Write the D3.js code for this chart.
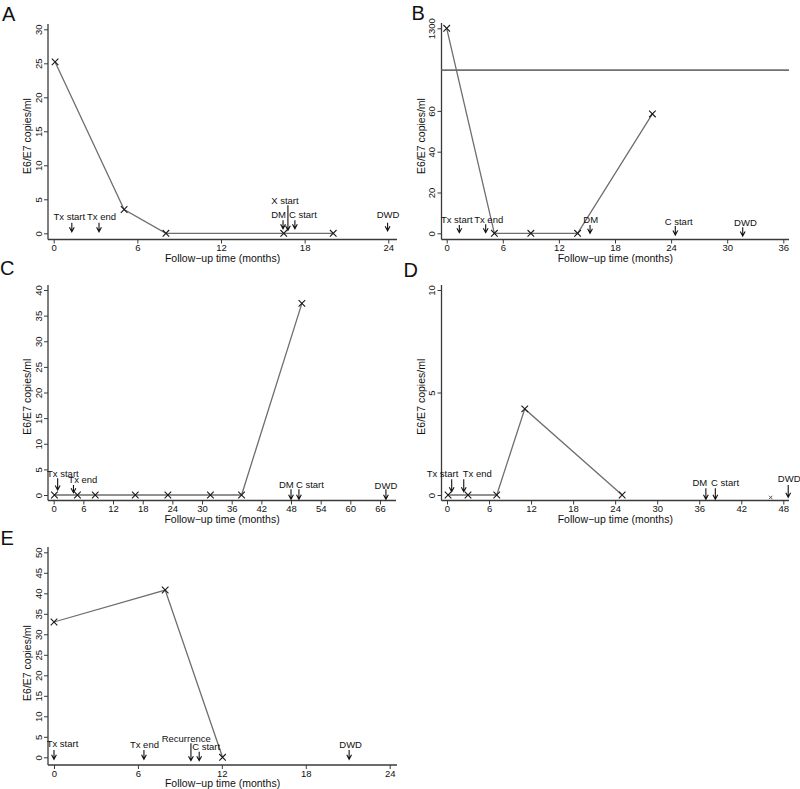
<!DOCTYPE html>
<html><head><meta charset="utf-8">
<script src="https://cdn.jsdelivr.net/npm/d3@7"></script>
<style>
body{margin:0;background:#fff}
svg text{font-family:"Liberation Sans",Arial,Helvetica,sans-serif;fill:#111}
</style>
</head><body>
<svg id="chart" width="800" height="789"></svg>
<script>
// ---------------- DATA ----------------
const panelLetters = ["A", "B", "C", "D", "E"];
const yTitle = "E6/E7 copies/ml";
const xTitle = "Follow\u2212up time (months)";

// Panel A
const monthsA = [0.1, 5.05, 8.05, 16.5, 20.05];
const copiesA = [25.2, 3.5, 0, 0, 0];
const xTicksA = [0, 6, 12, 18, 24];
const yTicksA = [0, 5, 10, 15, 20, 25, 30];
const eventLabelsA = ["Tx start", "Tx end", "DM", "X start", "C start", "DWD"];
const eventMonthsA = [1.3, 3.25, 16.45, 16.8, 17.3, 23.95];

// Panel B (broken y axis)
const monthsB = [0, 5.1, 9.0, 14.0, 22.0];
const copiesB = [1300, 0, 0, 0, 58.5];
const xTicksB = [0, 6, 12, 18, 24, 30, 36];
const yTicksB = [0, 20, 40, 60, 1300];
const yBreakB = 80;
const eventLabelsB = ["Tx start", "Tx end", "DM", "C start", "DWD"];
const eventMonthsB = [1.35, 4.17, 15.33, 24.45, 31.66];

// Panel C
const monthsC = [0.15, 4.8, 8.4, 16.5, 23.1, 31.7, 38.0, 50.2];
const copiesC = [0, 0, 0, 0, 0, 0, 0, 37.4];
const xTicksC = [0, 6, 12, 18, 24, 30, 36, 42, 48, 54, 60, 66];
const yTicksC = [0, 5, 10, 15, 20, 25, 30, 35, 40];
const eventLabelsC = ["Tx start", "Tx end", "DM", "C start", "DWD"];
const eventMonthsC = [0.8, 4.0, 48.0, 49.6, 67.2];

// Panel D
const monthsD = [0.15, 3.0, 7.1, 11.1, 25.0];
const copiesD = [0, 0, 0, 4.2, 0];
const extraMonthsD = [46.2];
const extraCopiesD = [-0.12];
const xTicksD = [0, 6, 12, 18, 24, 30, 36, 42, 48];
const yTicksD = [0, 5, 10];
const eventLabelsD = ["Tx start", "Tx end", "DM", "C start", "DWD"];
const eventMonthsD = [0.67, 2.39, 36.95, 38.3, 48.7];

// Panel E
const monthsE = [0, 7.95, 12.05];
const copiesE = [33.0, 40.8, 0];
const xTicksE = [0, 6, 12, 18, 24];
const yTicksE = [0, 5, 10, 15, 20, 25, 30, 35, 40, 45, 50];
const eventLabelsE = ["Tx start", "Tx end", "Recurrence", "C start", "DWD"];
const eventMonthsE = [0.0, 6.43, 9.79, 10.38, 21.1];

// ---------------- LAYOUT (pixels) ----------------
const layouts = {
  A: {axisX:48, axisY:239.5, x0:53.7, x1:388.3, xEnd:397, yRange:[233.3, 29.3], yTop:24, titleY:136, letter:[2,20.5],
      annot:[[-2.5,-13,-10.5,-1.5],[2.5,-13,-10.5,-1.5],[-4.5,-15,-13,-4.5],[-3,-29,-28,-3],[8,-15,-13,-4.5],[0.5,-15,-10.5,-2.5]]},
  B: {axisX:441.5, axisY:239.5, x0:446.7, x1:783.3, xEnd:789, yRange:[233.3, 70.1, 28.3], yTop:23, titleY:136, letter:[411.5,19.5],
      annot:[[-2.6,-10,-8.3,-0.6],[3,-10,-9,-0.6],[0.7,-10,-8.3,0],[3.4,-8.3,-7.3,1.7],[2.7,-7.3,-6,2.7]]},
  C: {axisX:48, axisY:500.5, x0:53.7, x1:380, xEnd:396, yRange:[495, 290], yTop:285, titleY:396.7, letter:[0,275],
      annot:[[5.2,-18.3,-16.7,-5],[9.4,-11.7,-10,-2.3],[-4.7,-6.7,-5.7,4.3],[11,-6.7,-5.7,4.3],[0,-6,-5.7,4.3]]},
  D: {axisX:441.5, axisY:500.5, x0:447, x1:783.3, xEnd:789, yRange:[495, 290], yTop:285, titleY:396.7, letter:[403.5,277],
      annot:[[-9.2,-17.7,-15.7,-3.3],[13.5,-17.7,-15.7,-3.3],[-6,-9,-6.7,4.3],[9.7,-9,-6.7,4.3],[1,-13.3,-10,2.3]]},
  E: {axisX:48, axisY:765, x0:54, x1:389.7, xEnd:397, yRange:[757.3, 552.3], yTop:547, titleY:663, letter:[0.5,545],
      annot:[[8.5,-10.6,-7.3,2],[0.5,-9,-7.3,2],[-4.7,-15.6,-14,3.4],[7,-7.3,-5.6,3.4],[1.5,-9,-7.3,2]]}
};

const panels = [
  {id:"A", months:monthsA, copies:copiesA, xTicks:xTicksA, yTicks:yTicksA, yDomain:[0, yTicksA[yTicksA.length-1]], evL:eventLabelsA, evM:eventMonthsA},
  {id:"B", months:monthsB, copies:copiesB, xTicks:xTicksB, yTicks:yTicksB, yDomain:[0, yBreakB, yTicksB[yTicksB.length-1]], evL:eventLabelsB, evM:eventMonthsB, brk:yBreakB},
  {id:"C", months:monthsC, copies:copiesC, xTicks:xTicksC, yTicks:yTicksC, yDomain:[0, yTicksC[yTicksC.length-1]], evL:eventLabelsC, evM:eventMonthsC},
  {id:"D", months:monthsD, copies:copiesD, xTicks:xTicksD, yTicks:yTicksD, yDomain:[0, yTicksD[yTicksD.length-1]], evL:eventLabelsD, evM:eventMonthsD, extraM:extraMonthsD, extraC:extraCopiesD},
  {id:"E", months:monthsE, copies:copiesE, xTicks:xTicksE, yTicks:yTicksE, yDomain:[0, yTicksE[yTicksE.length-1]], evL:eventLabelsE, evM:eventMonthsE}
];

// ---------------- STYLE ----------------
const axisColor = "#3a3a3a";
const lineColor = "#6e6e6e";
const markColor = "#1a1a1a";
const tickFont = 9.5, annFont = 9.5, titleFont = 10.5, letterFont = 20;

const svg = d3.select("#chart");

function drawPanel(p, letter) {
  const L = layouts[p.id];
  const g = svg.append("g");
  const x = d3.scaleLinear().domain([0, p.xTicks[p.xTicks.length-1]]).range([L.x0, L.x1]);
  const y = d3.scaleLinear().domain(p.yDomain).range(L.yRange);

  // axis lines
  g.append("line").attr("x1", L.axisX).attr("x2", L.axisX).attr("y1", L.yTop).attr("y2", L.axisY)
    .attr("stroke", axisColor).attr("stroke-width", 1.3);
  g.append("line").attr("x1", L.axisX).attr("x2", L.xEnd).attr("y1", L.axisY).attr("y2", L.axisY)
    .attr("stroke", axisColor).attr("stroke-width", 1.3);

  // x axis
  const xa = g.append("g").attr("transform", `translate(0,${L.axisY})`)
    .call(d3.axisBottom(x).tickValues(p.xTicks).tickSize(4).tickSizeOuter(0).tickFormat(d3.format("d")));
  xa.select(".domain").remove();
  xa.attr("font-family", null).attr("font-size", null);
  xa.selectAll(".tick line").attr("stroke", axisColor).attr("stroke-width", 1);
  xa.selectAll(".tick text").attr("y", 11.5).attr("dy", null).attr("font-size", tickFont).attr("fill", "#111");

  // y axis
  const ya = g.append("g").attr("transform", `translate(${L.axisX},0)`)
    .call(d3.axisLeft(y).tickValues(p.yTicks).tickSize(4).tickSizeOuter(0).tickFormat(d3.format("d")));
  ya.select(".domain").remove();
  ya.attr("font-family", null).attr("font-size", null);
  ya.selectAll(".tick line").attr("stroke", axisColor).attr("stroke-width", 1);
  ya.selectAll(".tick text").attr("x", 0).attr("dy", null).attr("text-anchor", "middle")
    .attr("transform", "translate(-6.3,0) rotate(-90)").attr("font-size", tickFont).attr("fill", "#111");

  // axis break line (panel B)
  if (p.brk !== undefined) {
    g.append("line").attr("x1", L.axisX).attr("x2", L.xEnd).attr("y1", y(p.brk)).attr("y2", y(p.brk))
      .attr("stroke", "#707070").attr("stroke-width", 1.8);
  }

  // data line
  const pts = p.months.map((m, i) => ({m, v: p.copies[i]}));
  g.append("path").datum(pts)
    .attr("d", d3.line().x(d => x(d.m)).y(d => y(d.v)))
    .attr("fill", "none").attr("stroke", lineColor).attr("stroke-width", 1.3);
  g.selectAll(".mk").data(pts).join("path").attr("class", "mk")
    .attr("transform", d => `translate(${x(d.m)},${y(d.v)})`)
    .attr("d", d3.symbol().type(d3.symbolX).size(30))
    .attr("fill", "none").attr("stroke", markColor).attr("stroke-width", 1.1);

  if (p.extraM) {
    const ex = p.extraM.map((m, i) => ({m, v: p.extraC[i]}));
    g.selectAll(".mk2").data(ex).join("path").attr("class", "mk2")
      .attr("transform", d => `translate(${x(d.m)},${y(d.v)})`)
      .attr("d", d3.symbol().type(d3.symbolX).size(9))
      .attr("fill", "none").attr("stroke", "#444").attr("stroke-width", 0.9);
  }

  // event annotations
  const y0 = y(0);
  p.evL.forEach((lab, i) => {
    const [dx, base, top, tip] = L.annot[i];
    const ax = x(p.evM[i]);
    const yt = y0 + tip;
    g.append("path")
      .attr("d", `M${ax},${y0 + top}L${ax},${yt}M${ax - 2.4},${yt - 4.5}L${ax},${yt}L${ax + 2.4},${yt - 4.5}`)
      .attr("fill", "none").attr("stroke", "#111").attr("stroke-width", 1.1);
    g.append("text").attr("x", ax + dx).attr("y", y0 + base).attr("text-anchor", "middle")
      .attr("font-size", annFont).text(lab);
  });

  // titles
  g.append("text").attr("text-anchor", "middle").attr("font-size", titleFont)
    .attr("transform", `translate(${L.axisX - 16.8},${L.titleY}) rotate(-90)`).text(yTitle);
  g.append("text").attr("text-anchor", "middle").attr("font-size", titleFont)
    .attr("x", (L.axisX + L.xEnd) / 2).attr("y", L.axisY + 22).text(xTitle);

  // panel letter
  g.append("text").attr("x", L.letter[0]).attr("y", L.letter[1]).attr("font-size", letterFont).text(letter);
}

panels.forEach((p, i) => drawPanel(p, panelLetters[i]));
</script>
</body></html>
